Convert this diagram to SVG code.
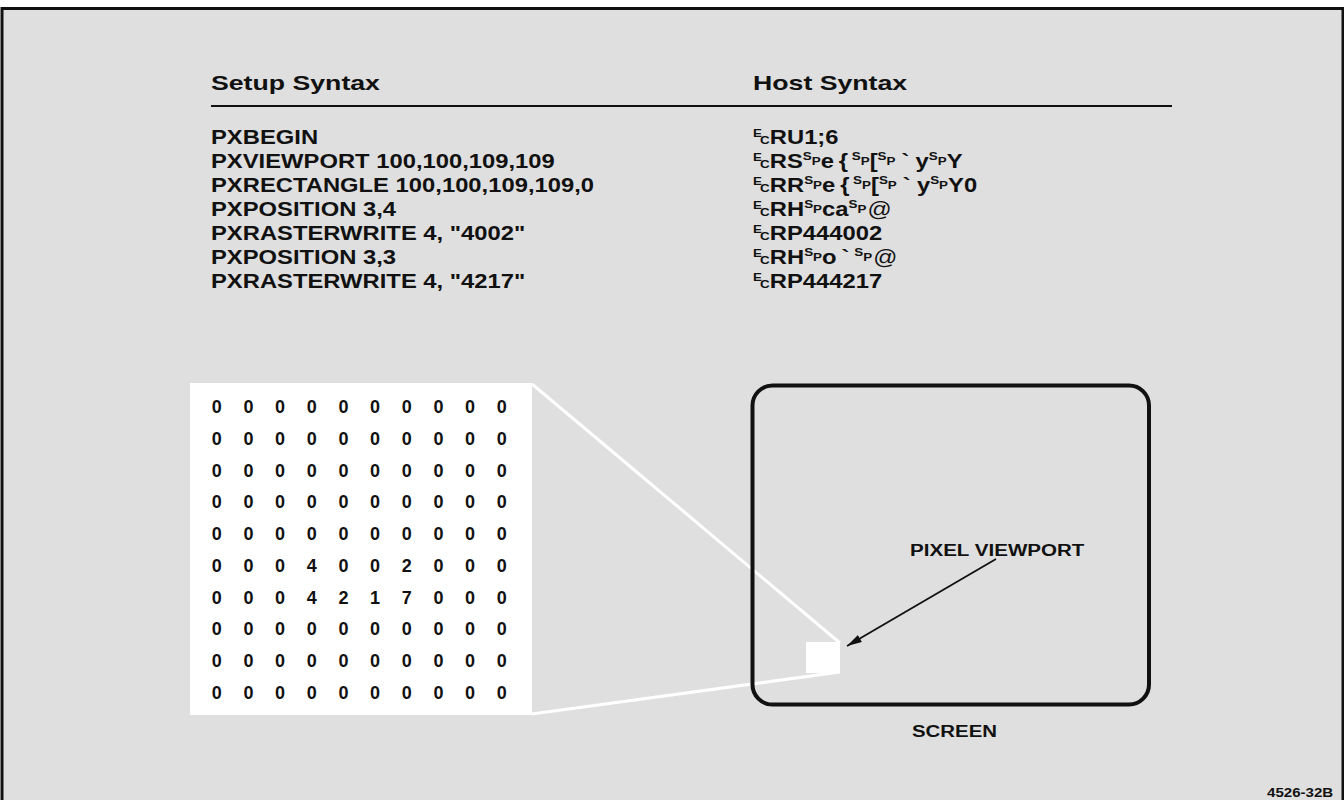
<svg xmlns="http://www.w3.org/2000/svg" width="1344" height="800" viewBox="0 0 1344 800">
  <style>
    text { font-family: "Liberation Sans", Arial, Helvetica, sans-serif; font-weight: bold; fill: #111; }
    .hdr { font-size: 21px; }
    .body { font-size: 19.5px; }
    .s { font-size: 11px; }
    .mx { font-size: 18px; text-anchor: middle; }
    .lbl { font-size: 17px; }
    .fig { font-size: 13px; }
    .proj { stroke: #ffffff; stroke-width: 3; fill: none; }
  </style>
  <defs>
    <marker id="ah" markerUnits="userSpaceOnUse" markerWidth="16" markerHeight="10" refX="15" refY="4" orient="auto">
      <path d="M0,0 L15,4 L0,8 Z" fill="#111"/>
    </marker>
  </defs>

  <!-- background and frame -->
  <rect x="0" y="0" width="1344" height="800" fill="#ffffff"/>
  <rect x="2" y="8.5" width="1341" height="800" fill="#dfdfdf" stroke="#111" stroke-width="3"/>

  <!-- headers -->
  <g id="header-setup" transform="translate(211 0) scale(1.27 1)">
    <text class="hdr" x="0" y="90">Setup Syntax</text>
  </g>
  <g id="header-host" transform="translate(753 0) scale(1.27 1)">
    <text class="hdr" x="0" y="90">Host Syntax</text>
  </g>
  <line id="rule" x1="211" y1="106" x2="1172" y2="106" stroke="#111" stroke-width="1.8"/>

  <!-- setup syntax lines -->
  <g id="setup-lines" transform="translate(211 0) scale(1.22 1)">
    <text class="body" x="0" y="144">PXBEGIN</text>
    <text class="body" x="0" y="168">PXVIEWPORT 100,100,109,109</text>
    <text class="body" x="0" y="192">PXRECTANGLE 100,100,109,109,0</text>
    <text class="body" x="0" y="216">PXPOSITION 3,4</text>
    <text class="body" x="0" y="240">PXRASTERWRITE 4, "4002"</text>
    <text class="body" x="0" y="264">PXPOSITION 3,3</text>
    <text class="body" x="0" y="288">PXRASTERWRITE 4, "4217"</text>
  </g>

  <!-- host syntax lines -->
  <g id="host-lines" transform="translate(753 0) scale(1.22 1)">
    <text class="body" x="0" y="144"><tspan class="s" y="137">E</tspan><tspan class="s" y="144" dx="-1.5">C</tspan><tspan y="144">RU1;6</tspan></text>
    <text class="body" x="0" y="168"><tspan class="s" y="161">E</tspan><tspan class="s" y="168" dx="-1.5">C</tspan><tspan y="168">RS</tspan><tspan class="s" y="160.5">S</tspan><tspan class="s" y="165">P</tspan><tspan y="168">e</tspan><tspan y="168" dx="4">{</tspan><tspan class="s" y="160.5" dx="3">S</tspan><tspan class="s" y="165">P</tspan><tspan y="168">[</tspan><tspan class="s" y="160.5">S</tspan><tspan class="s" y="165">P</tspan><tspan y="168" dx="5">`</tspan><tspan y="168" dx="5">y</tspan><tspan class="s" y="160.5">S</tspan><tspan class="s" y="165">P</tspan><tspan y="168">Y</tspan></text>
    <text class="body" x="0" y="192"><tspan class="s" y="185">E</tspan><tspan class="s" y="192" dx="-1.5">C</tspan><tspan y="192">RR</tspan><tspan class="s" y="184.5">S</tspan><tspan class="s" y="189">P</tspan><tspan y="192">e</tspan><tspan y="192" dx="4">{</tspan><tspan class="s" y="184.5" dx="3">S</tspan><tspan class="s" y="189">P</tspan><tspan y="192">[</tspan><tspan class="s" y="184.5">S</tspan><tspan class="s" y="189">P</tspan><tspan y="192" dx="5">`</tspan><tspan y="192" dx="5">y</tspan><tspan class="s" y="184.5">S</tspan><tspan class="s" y="189">P</tspan><tspan y="192">Y0</tspan></text>
    <text class="body" x="0" y="216"><tspan class="s" y="209">E</tspan><tspan class="s" y="216" dx="-1.5">C</tspan><tspan y="216">RH</tspan><tspan class="s" y="208.5">S</tspan><tspan class="s" y="213">P</tspan><tspan y="216">ca</tspan><tspan class="s" y="208.5">S</tspan><tspan class="s" y="213">P</tspan><tspan y="216" dx="1" font-weight="normal">@</tspan></text>
    <text class="body" x="0" y="240"><tspan class="s" y="233">E</tspan><tspan class="s" y="240" dx="-1.5">C</tspan><tspan y="240">RP444002</tspan></text>
    <text class="body" x="0" y="264"><tspan class="s" y="257">E</tspan><tspan class="s" y="264" dx="-1.5">C</tspan><tspan y="264">RH</tspan><tspan class="s" y="256.5">S</tspan><tspan class="s" y="261">P</tspan><tspan y="264">o</tspan><tspan y="264" dx="4">`</tspan><tspan class="s" y="256.5" dx="4">S</tspan><tspan class="s" y="261">P</tspan><tspan y="264" dx="1" font-weight="normal">@</tspan></text>
    <text class="body" x="0" y="288"><tspan class="s" y="281">E</tspan><tspan class="s" y="288" dx="-1.5">C</tspan><tspan y="288">RP444217</tspan></text>
  </g>

  <!-- connectors -->
  <g id="connectors">
    <line class="proj" x1="532" y1="384" x2="840" y2="643"/>
    <line class="proj" x1="532" y1="714" x2="840" y2="672"/>
    <line x1="996" y1="559" x2="847" y2="646" stroke="#111" stroke-width="1.8" marker-end="url(#ah)"/>
  </g>

  <!-- pixel matrix -->
  <g id="matrix">
    <rect x="190" y="383" width="342" height="332" fill="#ffffff"/>
    <g class="mx">
      <text class="mx" y="412.5"><tspan x="216.7">0</tspan><tspan x="248.4">0</tspan><tspan x="280">0</tspan><tspan x="311.7">0</tspan><tspan x="343.4">0</tspan><tspan x="375">0</tspan><tspan x="406.7">0</tspan><tspan x="438.4">0</tspan><tspan x="470">0</tspan><tspan x="501.7">0</tspan></text>
      <text class="mx" y="444.5"><tspan x="216.7">0</tspan><tspan x="248.4">0</tspan><tspan x="280">0</tspan><tspan x="311.7">0</tspan><tspan x="343.4">0</tspan><tspan x="375">0</tspan><tspan x="406.7">0</tspan><tspan x="438.4">0</tspan><tspan x="470">0</tspan><tspan x="501.7">0</tspan></text>
      <text class="mx" y="476.5"><tspan x="216.7">0</tspan><tspan x="248.4">0</tspan><tspan x="280">0</tspan><tspan x="311.7">0</tspan><tspan x="343.4">0</tspan><tspan x="375">0</tspan><tspan x="406.7">0</tspan><tspan x="438.4">0</tspan><tspan x="470">0</tspan><tspan x="501.7">0</tspan></text>
      <text class="mx" y="507.5"><tspan x="216.7">0</tspan><tspan x="248.4">0</tspan><tspan x="280">0</tspan><tspan x="311.7">0</tspan><tspan x="343.4">0</tspan><tspan x="375">0</tspan><tspan x="406.7">0</tspan><tspan x="438.4">0</tspan><tspan x="470">0</tspan><tspan x="501.7">0</tspan></text>
      <text class="mx" y="539.5"><tspan x="216.7">0</tspan><tspan x="248.4">0</tspan><tspan x="280">0</tspan><tspan x="311.7">0</tspan><tspan x="343.4">0</tspan><tspan x="375">0</tspan><tspan x="406.7">0</tspan><tspan x="438.4">0</tspan><tspan x="470">0</tspan><tspan x="501.7">0</tspan></text>
      <text class="mx" y="571.5"><tspan x="216.7">0</tspan><tspan x="248.4">0</tspan><tspan x="280">0</tspan><tspan x="311.7">4</tspan><tspan x="343.4">0</tspan><tspan x="375">0</tspan><tspan x="406.7">2</tspan><tspan x="438.4">0</tspan><tspan x="470">0</tspan><tspan x="501.7">0</tspan></text>
      <text class="mx" y="603.5"><tspan x="216.7">0</tspan><tspan x="248.4">0</tspan><tspan x="280">0</tspan><tspan x="311.7">4</tspan><tspan x="343.4">2</tspan><tspan x="375">1</tspan><tspan x="406.7">7</tspan><tspan x="438.4">0</tspan><tspan x="470">0</tspan><tspan x="501.7">0</tspan></text>
      <text class="mx" y="634.5"><tspan x="216.7">0</tspan><tspan x="248.4">0</tspan><tspan x="280">0</tspan><tspan x="311.7">0</tspan><tspan x="343.4">0</tspan><tspan x="375">0</tspan><tspan x="406.7">0</tspan><tspan x="438.4">0</tspan><tspan x="470">0</tspan><tspan x="501.7">0</tspan></text>
      <text class="mx" y="666.5"><tspan x="216.7">0</tspan><tspan x="248.4">0</tspan><tspan x="280">0</tspan><tspan x="311.7">0</tspan><tspan x="343.4">0</tspan><tspan x="375">0</tspan><tspan x="406.7">0</tspan><tspan x="438.4">0</tspan><tspan x="470">0</tspan><tspan x="501.7">0</tspan></text>
      <text class="mx" y="698.5"><tspan x="216.7">0</tspan><tspan x="248.4">0</tspan><tspan x="280">0</tspan><tspan x="311.7">0</tspan><tspan x="343.4">0</tspan><tspan x="375">0</tspan><tspan x="406.7">0</tspan><tspan x="438.4">0</tspan><tspan x="470">0</tspan><tspan x="501.7">0</tspan></text>
    </g>
  </g>

  <!-- screen -->
  <g id="screen">
    <rect x="752.5" y="385.5" width="396.5" height="319" rx="20" ry="20" fill="none" stroke="#111" stroke-width="4"/>
    <g transform="translate(912 0) scale(1.2 1)">
      <text class="lbl" x="0" y="737">SCREEN</text>
    </g>
  </g>

  <!-- pixel viewport -->
  <g id="pixel-viewport">
    <rect x="806" y="642" width="34" height="31" fill="#ffffff"/>
    <g transform="translate(910 0) scale(1.21 1)">
      <text class="lbl" x="0" y="556">PIXEL VIEWPORT</text>
    </g>
  </g>

  <!-- figure number -->
  <g id="figure-number" transform="translate(1267 0) scale(1.16 1)">
    <text class="fig" x="0" y="797">4526-32B</text>
  </g>
</svg>
